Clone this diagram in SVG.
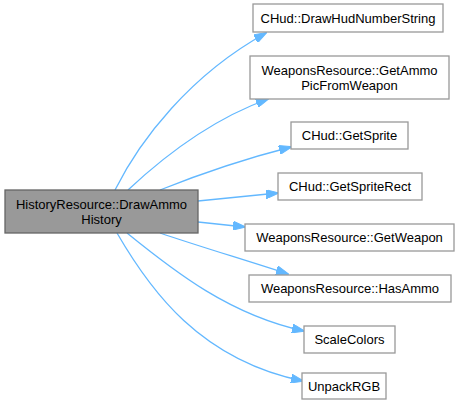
<svg xmlns="http://www.w3.org/2000/svg" width="459" height="408" viewBox="0 0 459 408">
<style>
.n rect{fill:#ffffff;stroke:#999999;stroke-width:1.3}
.m rect{fill:#999999;stroke:#666666;stroke-width:1.3}
text{font-family:"Liberation Sans",Arial,sans-serif;font-size:13px;fill:#000000;text-anchor:middle}
.e path{fill:none;stroke:#63b8ff;stroke-width:1.3;marker-end:url(#a)}
</style>
<defs>
<marker id="a" viewBox="0 0 13 9" refX="12" refY="4.5" markerWidth="13" markerHeight="9" markerUnits="userSpaceOnUse" orient="auto">
<path d="M0,0 L13,4.5 L0,9 Z" fill="#63b8ff" stroke="#63b8ff" stroke-width="1"/>
</marker>
</defs>
<g id="edges" class="e">
<path d="M115,190 C140,140 190,75 266,33"/>
<path d="M128,190 C160,160 210,120 268,99"/>
<path d="M160,190 C190,178 240,160 291,147"/>
<path d="M198,201 L278,193"/>
<path d="M198,222 L245,227"/>
<path d="M160,233 C195,245 245,260 288,274"/>
<path d="M127,233 C175,272 230,315 304,331"/>
<path d="M117,233 C150,290 200,360 303,381"/>
</g>
<g id="main" class="m"><rect x="5" y="190" width="193" height="43"/><text x="101.5" y="208.5">HistoryResource::DrawAmmo</text><text x="101.5" y="223.5">History</text></g>
<g id="n1" class="n"><rect x="253" y="4" width="190" height="28"/><text x="348" y="22.5">CHud::DrawHudNumberString</text></g>
<g id="n2" class="n"><rect x="250" y="56" width="199" height="43"/><text x="349.5" y="74.5">WeaponsResource::GetAmmo</text><text x="349.5" y="89.5">PicFromWeapon</text></g>
<g id="n3" class="n"><rect x="291" y="122" width="117" height="27"/><text x="349.5" y="140">CHud::GetSprite</text></g>
<g id="n4" class="n"><rect x="278" y="173" width="144" height="27"/><text x="350" y="191">CHud::GetSpriteRect</text></g>
<g id="n5" class="n"><rect x="245" y="224" width="209" height="27"/><text x="349.5" y="242">WeaponsResource::GetWeapon</text></g>
<g id="n6" class="n"><rect x="249" y="275" width="202" height="27"/><text x="350" y="293">WeaponsResource::HasAmmo</text></g>
<g id="n7" class="n"><rect x="304" y="326" width="91" height="27"/><text x="349.5" y="344">ScaleColors</text></g>
<g id="n8" class="n"><rect x="302" y="373" width="84" height="26"/><text x="344" y="391">UnpackRGB</text></g>
</svg>
